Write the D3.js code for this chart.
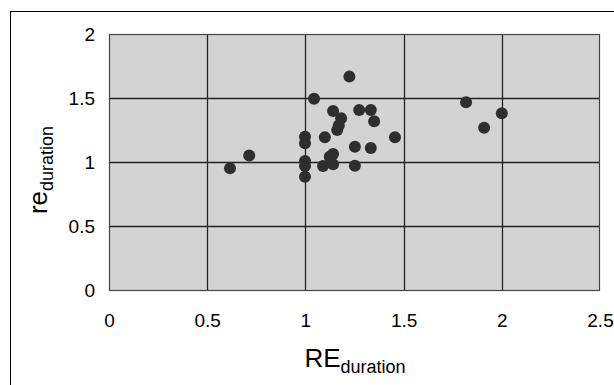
<!DOCTYPE html>
<html><head><meta charset="utf-8">
<script src="https://cdn.jsdelivr.net/npm/d3@7"></script>
<style>body{margin:0;background:#fff}svg{display:block;font-family:"Liberation Sans",Arial,sans-serif}</style>
</head><body><div id="c"></div>
<script>
const xTicks = [0, 0.5, 1, 1.5, 2, 2.5];
const yTicks = [0, 0.5, 1, 1.5, 2];
const xValues = [1.224, 1.044, 1.141, 1.182, 1.274, 1.333, 1.350, 1.162, 1.170, 1.099, 1.456, 1.252, 1.333,
  0.998, 0.998, 0.998, 0.998, 0.998, 0.714, 0.616, 1.141, 1.124, 1.090, 1.141, 1.252, 1.818, 1.910, 2.000];
const yValues = [1.667, 1.495, 1.398, 1.341, 1.406, 1.406, 1.318, 1.250, 1.285, 1.193, 1.193, 1.120, 1.109,
  1.198, 1.146, 1.008, 0.969, 0.885, 1.050, 0.951, 1.063, 1.041, 0.969, 0.982, 0.971, 1.466, 1.268, 1.380];

const W = 614, H = 385;
const m = {left: 109, top: 34, right: 600, bottom: 290};
const svg = d3.select("#c").append("svg").attr("width", W).attr("height", H);

// outer frame
svg.append("rect").attr("x", 10.5).attr("y", 11.5).attr("width", 700).attr("height", 500)
  .attr("fill", "none").attr("stroke", "#000").attr("stroke-width", 1);

const x = d3.scaleLinear().domain([0, 2.5]).range([m.left, m.right]);
const y = d3.scaleLinear().domain([0, 2]).range([m.bottom, m.top]);

svg.append("rect").attr("x", m.left).attr("y", m.top).attr("width", m.right - m.left).attr("height", m.bottom - m.top)
  .attr("fill", "#d3d3d3");

const g = svg.append("g");
g.selectAll(".vx").data(xTicks.slice(1, -1)).join("line")
  .attr("x1", d => Math.round(x(d)) + 0.5).attr("x2", d => Math.round(x(d)) + 0.5)
  .attr("y1", m.top).attr("y2", m.bottom).attr("stroke", "#222").attr("stroke-width", 1.3);
g.selectAll(".hy").data(yTicks.slice(1, -1)).join("line")
  .attr("y1", d => Math.round(y(d)) + 0.5).attr("y2", d => Math.round(y(d)) + 0.5)
  .attr("x1", m.left).attr("x2", m.right).attr("stroke", "#222").attr("stroke-width", 1.3);
svg.append("rect").attr("x", m.left + 0.5).attr("y", m.top + 0.5).attr("width", m.right - m.left - 1).attr("height", m.bottom - m.top)
  .attr("fill", "none").attr("stroke", "#444").attr("stroke-width", 1.2);

// points
svg.append("g").selectAll("circle").data(xValues.map((v, i) => [v, yValues[i]])).join("circle")
  .attr("cx", d => x(d[0])).attr("cy", d => y(d[1])).attr("r", 6).attr("fill", "#2e2e2e");

// axes
const xa = svg.append("g").attr("transform", `translate(0,${m.bottom + 20})`)
  .call(d3.axisBottom(x).tickValues(xTicks).tickFormat(d3.format("")).tickSize(0));
xa.attr("font-size", null).attr("font-family", null);
xa.select(".domain").remove();
xa.selectAll("text").style("font-size", "19px").attr("fill", "#000");
const ya = svg.append("g").attr("transform", `translate(${m.left - 11},0)`)
  .call(d3.axisLeft(y).tickValues(yTicks).tickFormat(d3.format("")).tickSize(0));
ya.attr("font-size", null).attr("font-family", null);
ya.select(".domain").remove();
ya.selectAll("text").style("font-size", "19px").attr("fill", "#000");

// axis titles
const xt = svg.append("text").attr("x", 355).attr("y", 367).attr("text-anchor", "middle").style("font-size", "26px");
xt.append("tspan").text("RE");
xt.append("tspan").style("font-size", "18px").attr("dy", 6).text("duration");
const yt = svg.append("text").attr("transform", "translate(47,170) rotate(-90)").attr("text-anchor", "middle").style("font-size", "26px");
yt.append("tspan").text("re");
yt.append("tspan").style("font-size", "18px").attr("dy", 6).text("duration");
</script></body></html>
